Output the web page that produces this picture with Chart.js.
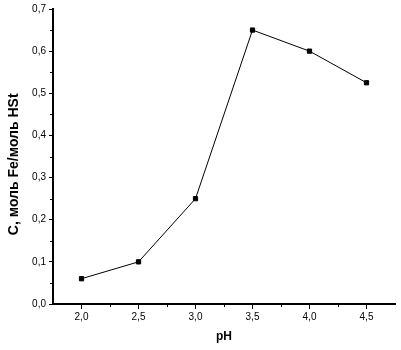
<!DOCTYPE html>
<html>
<head>
<meta charset="utf-8">
<script src="https://cdn.jsdelivr.net/npm/chart.js@4/dist/chart.umd.min.js"></script>
<style>
  html, body { margin: 0; padding: 0; background: #fff; }
  #wrap { width: 401px; height: 350px; }
</style>
</head>
<body>
<div id="wrap"><canvas id="chart" width="401" height="350"></canvas></div>
<script>
// Data
var phValues = [2.0, 2.5, 3.0, 3.5, 4.0, 4.5];
var concValues = [0.06, 0.10, 0.25, 0.65, 0.60, 0.525];
var xTicks = [2.0, 2.5, 3.0, 3.5, 4.0, 4.5];
var xMinorTicks = [2.25, 2.75, 3.25, 3.75, 4.25];
var yMinorTicks = [0.05, 0.15, 0.25, 0.35, 0.45, 0.55, 0.65];

function fmt(v) { return v.toFixed(1).replace('.', ','); }

// Short minor ticks outside the axes
var minorTicks = {
    id: 'minorTicks',
    afterDraw: function(chart) {
        var ctx = chart.ctx, xs = chart.scales.x, ys = chart.scales.y;
        var area = chart.chartArea;
        ctx.save();
        ctx.strokeStyle = '#000';
        ctx.lineWidth = 1;
        ctx.beginPath();
        xMinorTicks.forEach(function(v) {
            var px = Math.round(xs.getPixelForValue(v)) + 0.5;
            ctx.moveTo(px, area.bottom);
            ctx.lineTo(px, area.bottom + 3);
        });
        yMinorTicks.forEach(function(v) {
            var py = Math.round(ys.getPixelForValue(v)) + 0.5;
            ctx.moveTo(area.left, py);
            ctx.lineTo(area.left - 3, py);
        });
        ctx.stroke();
        ctx.restore();
    }
};

new Chart(document.getElementById('chart'), {
    type: 'line',
    data: {
        datasets: [{
            data: phValues.map(function(x, i) { return { x: x, y: concValues[i] }; }),
            borderColor: '#000',
            borderWidth: 1,
            backgroundColor: '#000',
            pointStyle: 'rect',
            pointRadius: 3,
            pointBorderWidth: 1,
            pointBorderColor: '#000',
            pointBackgroundColor: '#000',
            tension: 0,
            fill: false
        }]
    },
    options: {
        responsive: false,
        animation: false,
        layout: { padding: { left: 0, right: 6, top: 9, bottom: 0 } },
        plugins: { legend: { display: false }, tooltip: { enabled: false } },
        scales: {
            x: {
                type: 'linear',
                min: 1.75,
                max: 4.75,
                afterBuildTicks: function(axis) {
                    axis.ticks = xTicks.map(function(v) { return { value: v }; });
                },
                afterFit: function(axis) { axis.height = 46; },
                border: { display: true, color: '#000', width: 2 },
                grid: { display: true, drawOnChartArea: false, drawTicks: true, tickLength: 5, color: '#000', lineWidth: 1 },
                ticks: {
                    color: '#000',
                    padding: 2,
                    maxRotation: 0,
                    font: { family: 'Liberation Sans, Arial', size: 10 },
                    callback: function(v) { return fmt(v); }
                },
                title: {
                    display: true,
                    text: 'pH',
                    color: '#000',
                    padding: { top: 0, bottom: 6 },
                    font: { family: 'Liberation Sans, Arial', size: 12, weight: 'bold' }
                }
            },
            y: {
                min: 0,
                max: 0.7,
                ticks: {
                    stepSize: 0.1,
                    color: '#000',
                    padding: 3,
                    font: { family: 'Liberation Sans, Arial', size: 10 },
                    callback: function(v) { return fmt(v); }
                },
                afterFit: function(axis) { axis.width = 53; },
                border: { display: true, color: '#000', width: 2 },
                grid: { display: true, drawOnChartArea: false, drawTicks: true, tickLength: 4, color: '#000', lineWidth: 1 },
                title: {
                    display: true,
                    // trailing spaces nudge the rotated title a bit lower, as in the original
                    text: 'C, моль Fe/моль HSt    ',
                    color: '#000',
                    padding: { top: 6, bottom: 0 },
                    font: { family: 'Liberation Sans, Arial', size: 14, weight: 'bold' }
                }
            }
        }
    },
    plugins: [minorTicks]
});
</script>
</body>
</html>
